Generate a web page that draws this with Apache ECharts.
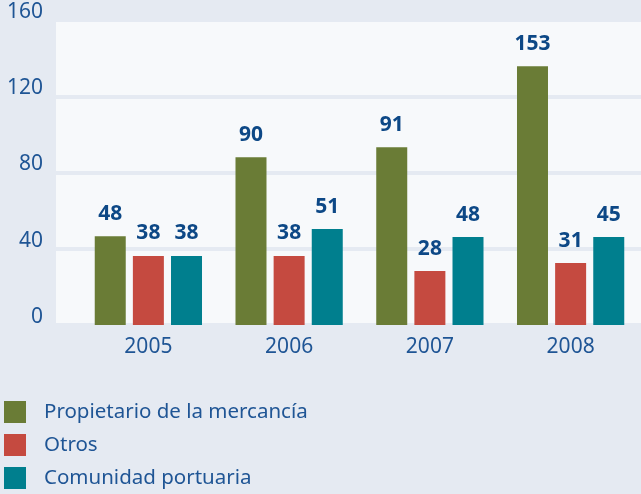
<!DOCTYPE html>
<html>
<head>
<meta charset="utf-8">
<script src="https://cdn.jsdelivr.net/npm/echarts@6/dist/echarts.min.js"></script>
<style>
  html, body { margin: 0; padding: 0; background: #e5eaf2; }
  #main { width: 641px; height: 494px; }
</style>
</head>
<body>
<div id="main"></div>
<script>
// datos
var years = ['2005', '2006', '2007', '2008'];
var yTicks = [0, 40, 80, 120, 160];
// alturas de las barras tal como se ven en el grafico
var propietario = [46.6, 88, 93.3, 135.7];
var otros = [36.2, 36.2, 28.3, 32.5];
var comunidad = [36.2, 50.3, 46.1, 46.1];
// cifras impresas encima de cada barra
var propietarioTxt = [48, 90, 91, 153];
var otrosTxt = [38, 38, 28, 31];
var comunidadTxt = [38, 51, 48, 45];
var names = ['Propietario de la mercancía', 'Otros', 'Comunidad portuaria'];

var font = 'Noto Sans';
var myChart = echarts.init(document.getElementById('main'));

function barSerie(name, data, txt, color) {
  return {
    name: name,
    type: 'bar',
    xAxisIndex: 1,
    yAxisIndex: 1,
    data: data,
    barWidth: 31,
    barGap: '23%',
    itemStyle: { color: color },
    label: {
      show: true,
      position: 'top',
      distance: 12,
      fontFamily: font,
      fontSize: 21,
      fontWeight: 'bold',
      color: '#0d4886',
      formatter: function (p) { return txt[p.dataIndex]; }
    }
  };
}

var option = {
  backgroundColor: '#e5eaf2',
  animation: false,
  grid: [
    { left: 56, right: 0, top: 20, bottom: 169, show: true, backgroundColor: '#f7f9fb', borderWidth: 0 },
    { left: 78, right: 0, top: 20, bottom: 169 }
  ],
  legend: {
    orient: 'vertical',
    left: 4,
    top: 401,
    padding: 0,
    itemWidth: 22,
    itemHeight: 22,
    itemGap: 11,
    icon: 'rect',
    data: names,
    textStyle: { fontFamily: font, fontSize: 20.5, color: '#1f5595', padding: [0, 0, 0, 13] }
  },
  xAxis: [
    { type: 'category', gridIndex: 0, show: false, data: years },
    {
      type: 'category', gridIndex: 1, data: years,
      axisLine: { show: false },
      axisTick: { show: false },
      axisLabel: { fontFamily: font, fontSize: 21, color: '#1f5595', margin: 12 }
    }
  ],
  yAxis: [
    {
      type: 'value', gridIndex: 0, min: yTicks[0], max: yTicks[yTicks.length - 1], interval: 40,
      axisLine: { show: false },
      axisTick: { show: false },
      splitLine: { lineStyle: { color: '#e5eaf2', width: 4 } },
      axisLabel: {
        fontFamily: font, fontSize: 21, color: '#1f5595', margin: 13,
        verticalAlign: 'bottom', lineHeight: 16
      }
    },
    { type: 'value', gridIndex: 1, min: 0, max: 160, show: false }
  ],
  series: [
    barSerie(names[0], propietario, propietarioTxt, '#6a7c36'),
    barSerie(names[1], otros, otrosTxt, '#c54a40'),
    barSerie(names[2], comunidad, comunidadTxt, '#007f8e')
  ]
};

option && myChart.setOption(option);
</script>
</body>
</html>
